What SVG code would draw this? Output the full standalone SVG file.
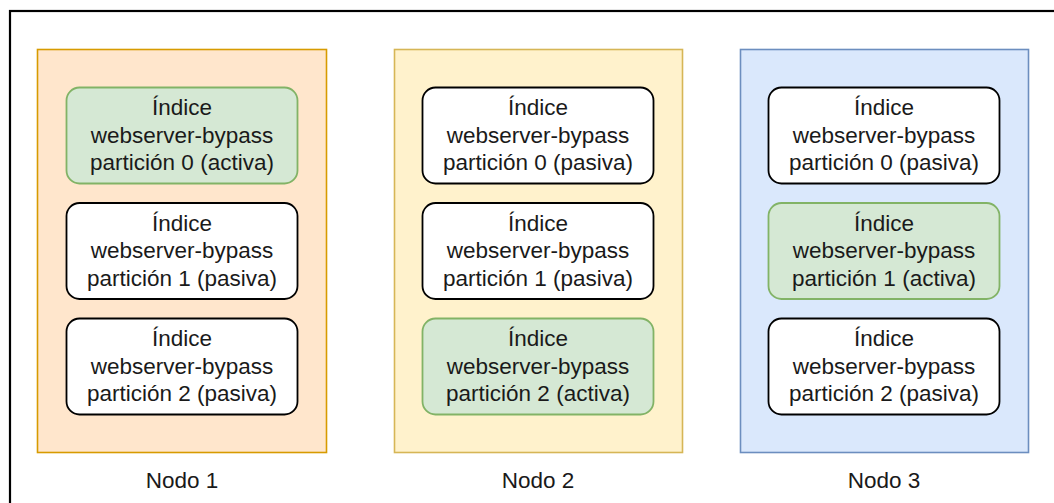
<svg xmlns="http://www.w3.org/2000/svg" width="1054" height="503" viewBox="0 0 1054 503">
  <style>
    text { font-family: "Liberation Sans", Arial, sans-serif; fill: #1a1a1a; text-anchor: middle; }
    .lbl { font-size: 22.5px; }
    .cap { font-size: 22.5px; }
    .idx { fill: #ffffff; stroke: #000000; stroke-width: 1.8; }
    .act { fill: #d5e8d4; stroke: #82b366; stroke-width: 1.8; }
    .n1 { fill: #ffe6cc; stroke: #d79b00; stroke-width: 1.6; }
    .n2 { fill: #fff2cc; stroke: #d6b656; stroke-width: 1.6; }
    .n3 { fill: #dae8fc; stroke: #6c8ebf; stroke-width: 1.6; }
  </style>
  <rect width="1054" height="503" fill="#ffffff"/>
  <!-- outer frame -->
  <rect x="10" y="11" width="1100" height="520" fill="none" stroke="#000000" stroke-width="2.2"/>

  <!-- Nodo 1 -->
  <g id="nodo1">
    <rect class="n1" x="37.5" y="49.5" width="289" height="403"/>
    <text class="cap" x="182" y="488">Nodo 1</text>
  </g>
  <g id="n1-p0">
    <rect class="act" x="66.5" y="87.5" width="231" height="96" rx="13"/>
    <text class="lbl" x="182" y="115">Índice</text>
    <text class="lbl" x="182" y="142.5">webserver-bypass</text>
    <text class="lbl" x="182" y="170">partición 0 (activa)</text>
  </g>
  <g id="n1-p1">
    <rect class="idx" x="66.5" y="203" width="231" height="96" rx="13"/>
    <text class="lbl" x="182" y="230.5">Índice</text>
    <text class="lbl" x="182" y="258">webserver-bypass</text>
    <text class="lbl" x="182" y="285.5">partición 1 (pasiva)</text>
  </g>
  <g id="n1-p2">
    <rect class="idx" x="66.5" y="318.5" width="231" height="96" rx="13"/>
    <text class="lbl" x="182" y="346">Índice</text>
    <text class="lbl" x="182" y="373.5">webserver-bypass</text>
    <text class="lbl" x="182" y="401">partición 2 (pasiva)</text>
  </g>

  <!-- Nodo 2 -->
  <g id="nodo2">
    <rect class="n2" x="394.5" y="49.5" width="288" height="403"/>
    <text class="cap" x="538" y="488">Nodo 2</text>
  </g>
  <g id="n2-p0">
    <rect class="idx" x="422.5" y="87.5" width="231" height="96" rx="13"/>
    <text class="lbl" x="538" y="115">Índice</text>
    <text class="lbl" x="538" y="142.5">webserver-bypass</text>
    <text class="lbl" x="538" y="170">partición 0 (pasiva)</text>
  </g>
  <g id="n2-p1">
    <rect class="idx" x="422.5" y="203" width="231" height="96" rx="13"/>
    <text class="lbl" x="538" y="230.5">Índice</text>
    <text class="lbl" x="538" y="258">webserver-bypass</text>
    <text class="lbl" x="538" y="285.5">partición 1 (pasiva)</text>
  </g>
  <g id="n2-p2">
    <rect class="act" x="422.5" y="318.5" width="231" height="96" rx="13"/>
    <text class="lbl" x="538" y="346">Índice</text>
    <text class="lbl" x="538" y="373.5">webserver-bypass</text>
    <text class="lbl" x="538" y="401">partición 2 (activa)</text>
  </g>

  <!-- Nodo 3 -->
  <g id="nodo3">
    <rect class="n3" x="740.5" y="49.5" width="288" height="403"/>
    <text class="cap" x="884" y="488">Nodo 3</text>
  </g>
  <g id="n3-p0">
    <rect class="idx" x="768.5" y="87.5" width="231" height="96" rx="13"/>
    <text class="lbl" x="884" y="115">Índice</text>
    <text class="lbl" x="884" y="142.5">webserver-bypass</text>
    <text class="lbl" x="884" y="170">partición 0 (pasiva)</text>
  </g>
  <g id="n3-p1">
    <rect class="act" x="768.5" y="203" width="231" height="96" rx="13"/>
    <text class="lbl" x="884" y="230.5">Índice</text>
    <text class="lbl" x="884" y="258">webserver-bypass</text>
    <text class="lbl" x="884" y="285.5">partición 1 (activa)</text>
  </g>
  <g id="n3-p2">
    <rect class="idx" x="768.5" y="318.5" width="231" height="96" rx="13"/>
    <text class="lbl" x="884" y="346">Índice</text>
    <text class="lbl" x="884" y="373.5">webserver-bypass</text>
    <text class="lbl" x="884" y="401">partición 2 (pasiva)</text>
  </g>

  <g id="connectors"/>
</svg>
